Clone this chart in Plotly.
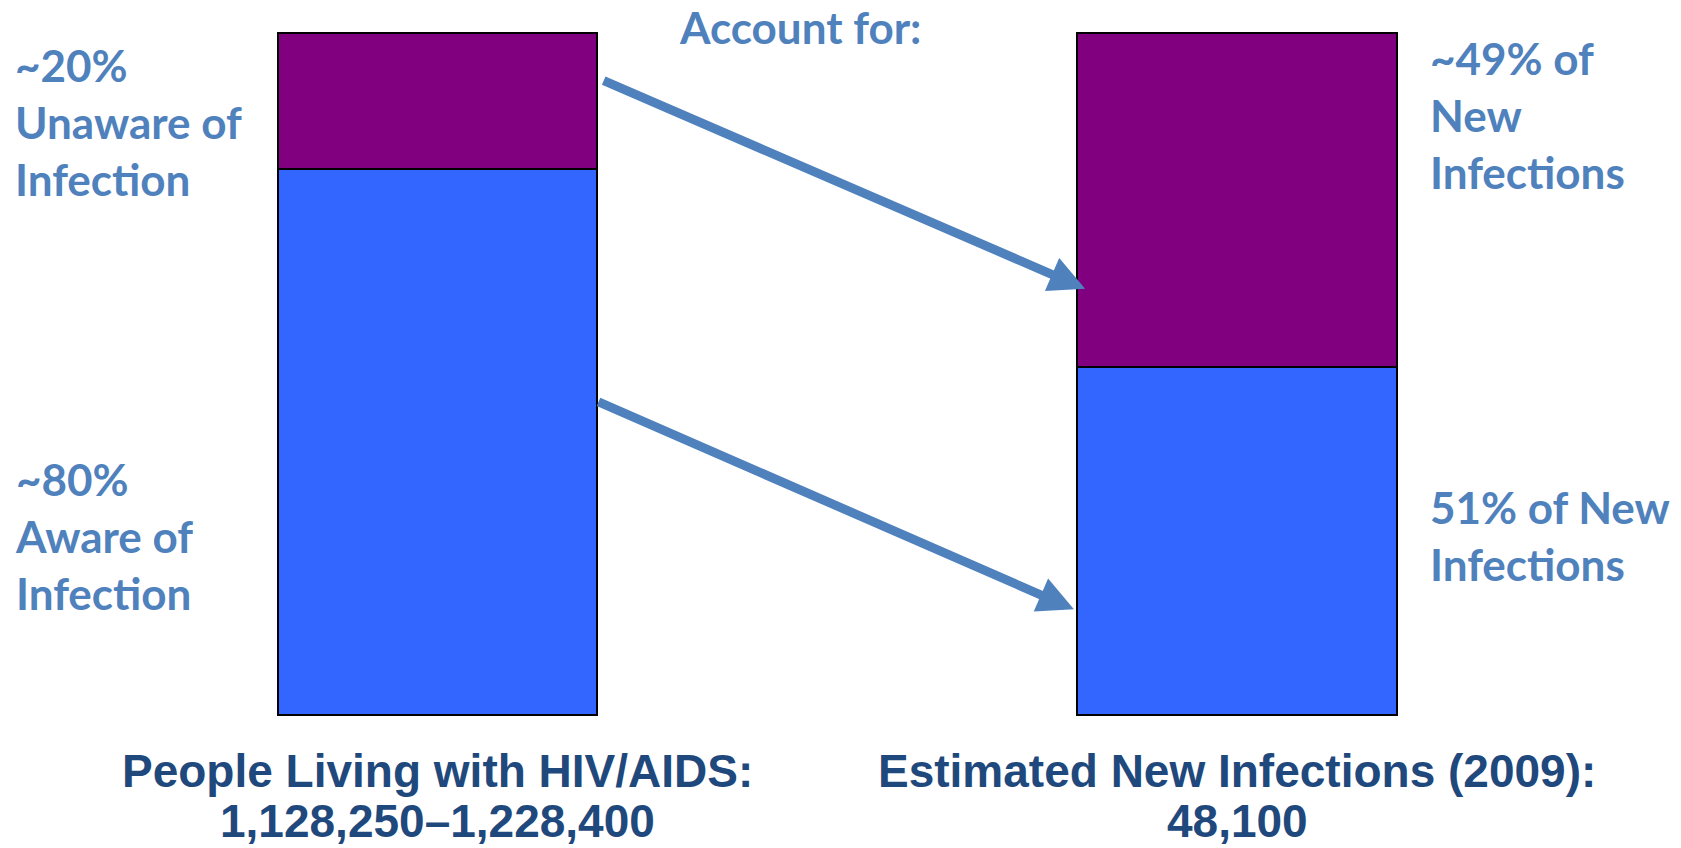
import plotly.graph_objects as go

# Data
categories = ["People Living with HIV/AIDS:", "Estimated New Infections (2009):"]
category_values = ["1,128,250\u20131,228,400", "48,100"]
aware_pct = [80, 51]      # aware of infection / share of new infections
unaware_pct = [20, 49]    # unaware of infection / share of new infections
left_labels = ["~20%<br>Unaware of<br>Infection", "~80%<br>Aware of<br>Infection"]
right_labels = ["~49% of<br>New<br>Infections", "51% of New<br>Infections"]
header_text = "Account for:"

W, H = 1681, 848
LIGHT = "#4F81BD"
DARK = "#1F497D"
x_pos = [0, 1]

fig = go.Figure()
fig.add_trace(go.Bar(x=x_pos, y=aware_pct, width=0.4, marker=dict(color="#3366FF", line=dict(color="black", width=2.5)),
                     showlegend=False, hoverinfo="skip"))
fig.add_trace(go.Bar(x=x_pos, y=unaware_pct, width=0.4, marker=dict(color="#800080", line=dict(color="black", width=2.5)),
                     showlegend=False, hoverinfo="skip"))

label_font = dict(family="Lato, Open Sans, sans-serif", size=44, color=LIGHT)
bottom_font = dict(family="Liberation Sans, Arial, sans-serif", size=46, color=DARK)

annotations = []
# side labels
annotations.append(dict(x=0.008, xref="paper", y=86.9, yref="y", text="<b>" + left_labels[0] + "</b>",
                        showarrow=False, xanchor="left", yanchor="middle", align="left", font=label_font))
annotations.append(dict(x=0.008, xref="paper", y=26.3, yref="y", text="<b>" + left_labels[1] + "</b>",
                        showarrow=False, xanchor="left", yanchor="middle", align="left", font=label_font))
annotations.append(dict(x=1428 / W, xref="paper", y=88.0, yref="y", text="<b>" + right_labels[0] + "</b>",
                        showarrow=False, xanchor="left", yanchor="middle", align="left", font=label_font))
annotations.append(dict(x=1428 / W, xref="paper", y=26.3, yref="y", text="<b>" + right_labels[1] + "</b>",
                        showarrow=False, xanchor="left", yanchor="middle", align="left", font=label_font))
annotations.append(dict(x=0.453, xref="x", y=1, yref="paper", text="<b>" + header_text + "</b>",
                        showarrow=False, xanchor="center", yanchor="top", borderpad=0, font=label_font))

# category captions under each bar
for xi, cat, val in zip(x_pos, categories, category_values):
    annotations.append(dict(x=xi, xref="x", y=-8.2, yref="y", text="<b>" + cat + "</b>",
                            showarrow=False, xanchor="center", yanchor="middle", font=bottom_font))
    annotations.append(dict(x=xi, xref="x", y=0, yref="paper", text="<b>" + val + "</b>",
                            showarrow=False, xanchor="center", yanchor="bottom", borderpad=0, font=bottom_font))

# connector arrows between the two bars
connectors = [((0.206, 93.1), (0.810, 62.5)), ((0.1995, 46.0), (0.796, 15.5))]
for (tx, ty), (hx, hy) in connectors:
    annotations.append(dict(x=hx, y=hy, xref="x", yref="y", ax=tx, ay=ty, axref="x", ayref="y",
                            text="", showarrow=True, arrowhead=2, arrowsize=0.8, arrowwidth=9,
                            arrowcolor=LIGHT))

fig.update_layout(
    width=W, height=H, margin=dict(l=0, r=0, t=0, b=0),
    barmode="stack", bargap=0,
    paper_bgcolor="white", plot_bgcolor="white",
    xaxis=dict(range=[-0.5472, 1.5553], visible=False, fixedrange=True),
    yaxis=dict(range=[-19.50, 104.84], visible=False, fixedrange=True),
    annotations=annotations,
)

fig.write_html("out.html", config={"displayModeBar": False})
